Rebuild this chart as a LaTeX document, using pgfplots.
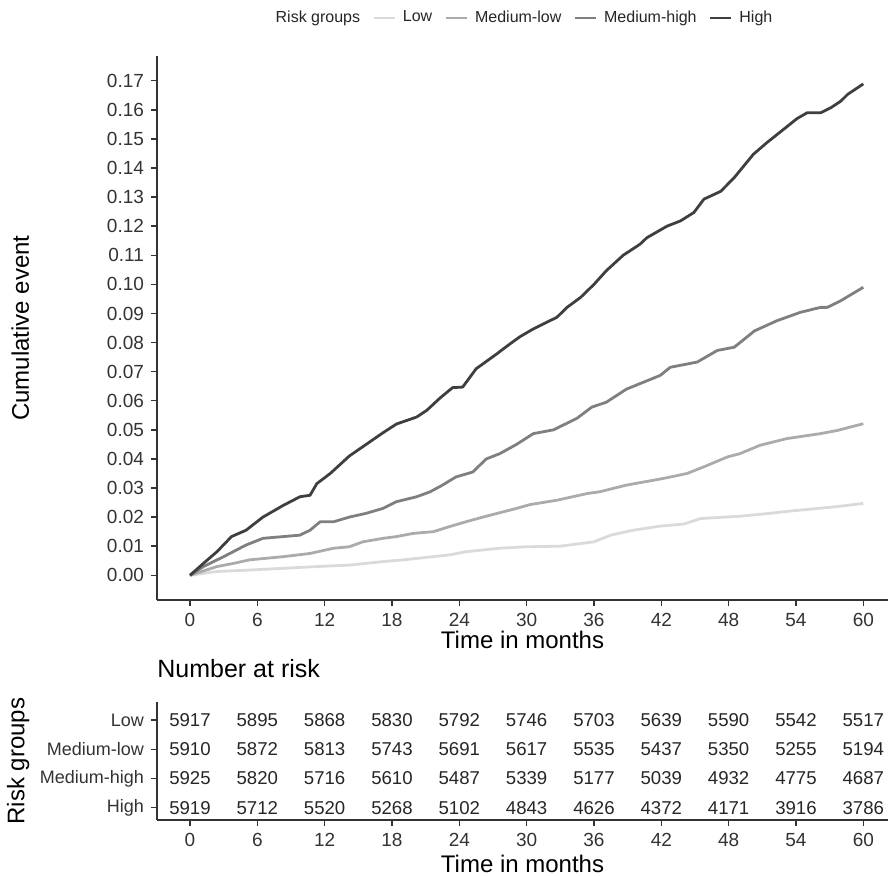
\documentclass[border=0pt]{standalone}
\usepackage{fontspec}
\setmainfont{Liberation Sans}
\usepackage{pgfplots}
\pgfplotsset{compat=1.18}
\usepackage{pgfplotstable}

\definecolor{cLow}{HTML}{DADADA}
\definecolor{cMedLow}{HTML}{ABABAB}
\definecolor{cMedHigh}{HTML}{7F7F7F}
\definecolor{cHigh}{HTML}{3F3F3F}
\definecolor{axgray}{HTML}{333333}

% number at risk
\pgfplotstableread{
t    low  medlow medhigh high
0    5917 5910 5925 5919
6    5895 5872 5820 5712
12   5868 5813 5716 5520
18   5830 5743 5610 5268
24   5792 5691 5487 5102
30   5746 5617 5339 4843
36   5703 5535 5177 4626
42   5639 5437 5039 4372
48   5590 5350 4932 4171
54   5542 5255 4775 3916
60   5517 5194 4687 3786
}\risktab

\pgfplotsset{
  km/.style={
    width=365.5pt, scale only axis,
    xmin=-2.94, xmax=62.2,
    axis lines*=left,
    axis line style={axgray, line width=0.8pt},
    tick align=outside, major tick length=3pt,
    tick style={axgray, line width=0.7pt},
    xtick={0,6,...,60},
    tick label style={font=\fontsize{9.5}{11}\selectfont, text=black!80},
    /pgf/number format/assume math mode=true,
    label style={font=\fontsize{12}{14}\selectfont},
  },
  curve/.style={line width=1.4pt, line join=round, mark=none},
}

\begin{document}
\begin{tikzpicture}
\useasboundingbox (-78.5pt,-137.5pt) rectangle (365.5pt,300pt);

% cumulative event curves
\begin{axis}[km,
  at={(0,0)}, anchor=south west,
  height=272pt,
  ymin=-0.0085, ymax=0.1785,
  ytick={0,0.01,0.02,0.03,0.04,0.05,0.06,0.07,0.08,0.09,0.10,0.11,0.12,0.13,0.14,0.15,0.16,0.17},
  yticklabel style={/pgf/number format/.cd, fixed, fixed zerofill, precision=2},
  xlabel={Time in months},
  ylabel={Cumulative event},
  xlabel style={at={(axis description cs:0.5,-0.074)}, anchor=center},
  ylabel style={at={(axis description cs:-0.187,0.5)}, anchor=center},
  legend columns=5,
  legend style={at={(axis description cs:0.5,1.07)}, anchor=center, draw=none,
    font=\fontsize{8}{10}\selectfont, text=black!85,
    /tikz/every odd column/.append style={column sep=1.5pt},
    /tikz/every even column/.append style={column sep=4pt}},
  legend image code/.code={\draw[#1] (0pt,0pt) -- (10.5pt,0pt);},
]
\addlegendimage{empty legend}
\addlegendentry{Risk groups\hspace{-4pt}}

\addplot[curve, cLow] coordinates {
(0,0) (2.4,0.0013) (5.3,0.0018) (8.3,0.0024) (11.3,0.0030) (14.2,0.0035)
(17.2,0.0047) (19.0,0.0053) (20.2,0.0058) (23.1,0.0070) (24.6,0.0081)
(26.1,0.0087) (27.6,0.0093) (30.0,0.0098) (33.0,0.0100) (36.0,0.0115)
(37.5,0.0138) (39.5,0.0155) (41.9,0.0169) (44.0,0.0176) (45.5,0.0195)
(49.0,0.0203) (51.4,0.0212) (53.8,0.0222) (57.4,0.0235) (60.0,0.0247)
};
\addlegendentry{Low}

\addplot[curve, cMedLow] coordinates {
(0,0) (2.4,0.0030) (3.9,0.0041) (5.3,0.0053) (8.3,0.0064) (10.7,0.0075)
(12.8,0.0093) (14.2,0.0098) (15.4,0.0115) (17.2,0.0127) (18.4,0.0133)
(19.9,0.0144) (21.7,0.0150) (23.1,0.0167) (24.6,0.0184) (26.1,0.0200)
(27.9,0.0218) (29.1,0.0230) (30.3,0.0243) (32.7,0.0258) (35.4,0.0281)
(36.5,0.0287) (38.9,0.0310) (42.2,0.0333) (44.3,0.0350) (45.8,0.0373)
(47.9,0.0407) (49.0,0.0418) (50.8,0.0447) (53.2,0.0470) (56.2,0.0487)
(57.7,0.0498) (60.0,0.0521)
};
\addlegendentry{Medium-low}

\addplot[curve, cMedHigh] coordinates {
(0,0) (1.2,0.0030) (3.0,0.0064) (5.0,0.0104) (6.5,0.0127) (8.3,0.0133)
(9.8,0.0138) (10.7,0.0155) (11.6,0.0184) (12.8,0.0184) (14.2,0.0200)
(15.7,0.0213) (17.2,0.0230) (18.4,0.0253) (20.2,0.0270) (21.4,0.0287)
(22.5,0.0310) (23.7,0.0338) (25.2,0.0355) (26.4,0.0400) (27.6,0.0418)
(29.1,0.0450) (30.6,0.0487) (32.4,0.0500) (34.5,0.0540) (35.8,0.0578)
(37.1,0.0595) (38.9,0.0640) (41.9,0.0687) (42.8,0.0715) (45.2,0.0733)
(47.0,0.0773) (48.5,0.0784) (50.3,0.0840) (52.3,0.0875) (54.4,0.0904)
(56.2,0.0921) (56.8,0.0921) (58.0,0.0944) (60.0,0.0990)
};
\addlegendentry{Medium-high}

\addplot[curve, cHigh] coordinates {
(0,0) (1.2,0.0041) (2.4,0.0081) (3.7,0.0133) (5.0,0.0155) (6.5,0.0200)
(8.3,0.0240) (9.8,0.0270) (10.7,0.0275) (11.3,0.0315) (12.5,0.0350)
(14.2,0.0410) (15.7,0.0450) (17.2,0.0490) (18.4,0.0520) (20.2,0.0544)
(21.1,0.0567) (22.3,0.0610) (23.4,0.0645) (24.3,0.0647) (25.5,0.0710)
(27.3,0.0760) (28.5,0.0795) (29.4,0.0820) (30.6,0.0847) (32.7,0.0887)
(33.6,0.0921) (34.8,0.0955) (36.0,0.1000) (37.1,0.1047) (38.6,0.1100)
(40.1,0.1138) (40.7,0.1160) (42.5,0.1200) (43.7,0.1218) (44.9,0.1247)
(45.8,0.1293) (47.3,0.1320) (48.5,0.1367) (50.2,0.1447) (51.4,0.1487)
(52.9,0.1533) (54.1,0.1570) (55.0,0.1590) (56.2,0.1590) (57.1,0.1607)
(58.0,0.1630) (58.6,0.1653) (60.0,0.1689)
};
\addlegendentry{High}
\end{axis}

% number at risk table
\begin{axis}[km,
  at={(0,-110pt)}, anchor=south west,
  height=59pt,
  ymin=0.58, ymax=4.62,
  ytick={1,2,3,4},
  yticklabels={High,Medium-high,Medium-low,Low},
  y tick label style={font=\fontsize{9}{11}\selectfont},
  xlabel={Time in months},
  ylabel={Risk groups},
  xlabel style={at={(axis description cs:0.5,-0.375)}, anchor=center},
  ylabel style={at={(axis description cs:-0.19,0.5)}, anchor=center},
  title={Number at risk},
  title style={at={(axis description cs:0,1)}, anchor=west, inner sep=0pt, yshift=10.5pt,
    font=\fontsize{12.5}{15}\selectfont},
  nodes near coords,
  point meta=explicit symbolic,
  nodes near coords style={anchor=center, font=\fontsize{9.3}{11}\selectfont, text=black!85},
]
\addplot[only marks, mark=*, mark size=0pt, mark options={draw=none, fill=none}]
  table[x=t, y expr=4, meta=low] {\risktab};
\addplot[only marks, mark=*, mark size=0pt, mark options={draw=none, fill=none}]
  table[x=t, y expr=3, meta=medlow] {\risktab};
\addplot[only marks, mark=*, mark size=0pt, mark options={draw=none, fill=none}]
  table[x=t, y expr=2, meta=medhigh] {\risktab};
\addplot[only marks, mark=*, mark size=0pt, mark options={draw=none, fill=none}]
  table[x=t, y expr=1, meta=high] {\risktab};
\end{axis}
\end{tikzpicture}
\end{document}
